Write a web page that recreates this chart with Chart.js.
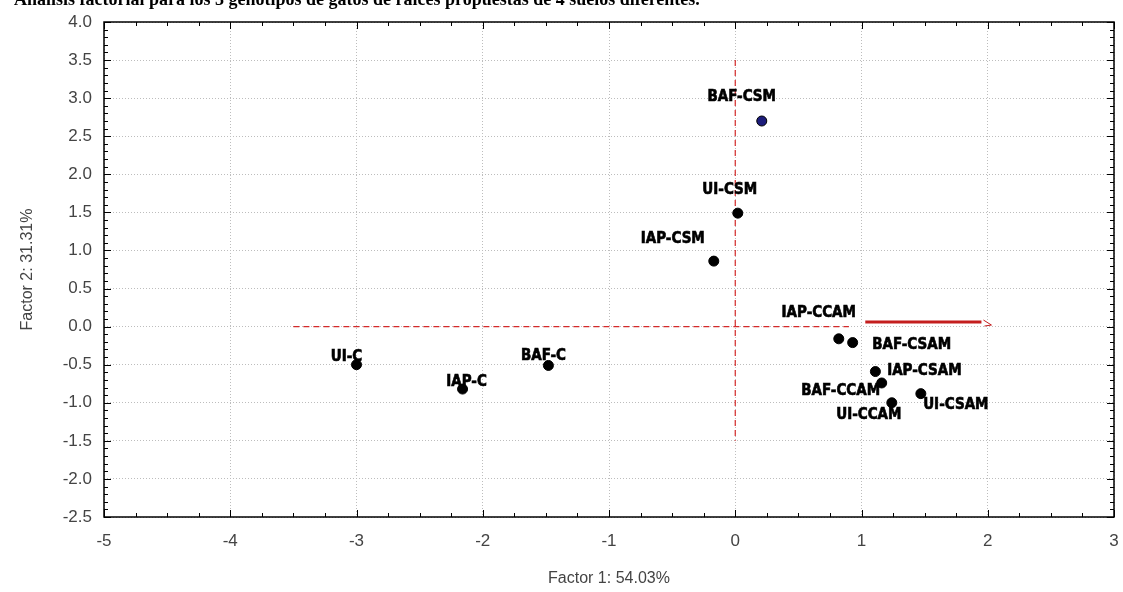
<!DOCTYPE html>
<html>
<head>
<meta charset="utf-8">
<script src="https://cdn.jsdelivr.net/npm/chart.js@4.4.1/dist/chart.umd.min.js"></script>
<style>
  html, body { margin: 0; padding: 0; background: #fff; }
  #wrap { position: relative; width: 1123px; height: 592px; }
</style>
</head>
<body>
<div id="wrap"><canvas id="biplot" width="1123" height="592"></canvas></div>
<script>
// Data
const titleText = 'Análisis factorial para los 3 genotipos de gatos de raíces propuestas de 4 suelos diferentes.';
const pointLabels = ['BAF-CSM', 'UI-CSM', 'IAP-CSM', 'IAP-CCAM', 'BAF-CSAM', 'IAP-CSAM', 'BAF-CCAM', 'UI-CCAM', 'UI-CSAM', 'UI-C', 'IAP-C', 'BAF-C'];
const factor1 = [0.21, 0.02, -0.17, 0.82, 0.93, 1.11, 1.16, 1.24, 1.47, -3.0, -2.16, -1.48];
const factor2 = [2.70, 1.49, 0.86, -0.16, -0.21, -0.59, -0.74, -1.0, -0.88, -0.5, -0.82, -0.51];
const xTicks = [-5, -4, -3, -2, -1, 0, 1, 2, 3];
const yTicks = [4.0, 3.5, 3.0, 2.5, 2.0, 1.5, 1.0, 0.5, 0.0, -0.5, -1.0, -1.5, -2.0, -2.5];
const xTitle = 'Factor 1: 54.03%';
const yTitle = 'Factor 2: 31.31%';

// reference lines (red)
const hDashX = [-3.5, 0.9];
const hDashY = [0, 0];
const hSolidX = [1.03, 1.95];
const hSolidY = [0.06, 0.06];
const vDashX = [0, 0];
const vDashY = [3.5, -1.5];

// label placement (pixels, relative to point)
const labelOffsets = [[-20, -24], [-8, -23], [-41, -22], [-20, -26], [59, 3], [49, 0], [-41, 8], [-23, 12], [35, 11], [-10, -8], [4, -7], [-5, -9]];
const pointColors = ['#1c1c7a', '#000', '#000', '#000', '#000', '#000', '#000', '#000', '#000', '#000', '#000', '#000'];

const toXY = (xs, ys) => xs.map((x, i) => ({ x: x, y: ys[i] }));

const tickFont = { family: "'Liberation Sans', Arial, sans-serif", size: 17 };
const titleFont = { family: "'Liberation Sans', Arial, sans-serif", size: 16 };

const framePlugin = {
    id: 'frame',
    beforeDraw(chart) {
        const ctx = chart.ctx;
        ctx.save();
        ctx.fillStyle = '#fff';
        ctx.fillRect(0, 0, chart.width, chart.height);
        // clipped title: only the lower half shows in the reference
        ctx.fillStyle = '#000';
        ctx.font = "bold 18px 'Liberation Serif', 'DejaVu Serif', serif";
        ctx.textBaseline = 'alphabetic';
        ctx.fillText(titleText, 14, 5);
        ctx.restore();
    },
    afterDatasetsDraw(chart) {
        const { ctx, chartArea: a, scales } = chart;
        ctx.save();
        ctx.strokeStyle = '#000';
        ctx.lineWidth = 1;
        // minor & major ticks, pointing inward
        ctx.beginPath();
        for (let v = -5; v <= 3.001; v += 0.25) {
            const px = Math.round(scales.x.getPixelForValue(v)) + 0.5;
            const major = Math.abs(v - Math.round(v)) < 0.001;
            const len = major ? 7 : 4;
            ctx.moveTo(px, a.bottom); ctx.lineTo(px, a.bottom - len);
            ctx.moveTo(px, a.top); ctx.lineTo(px, a.top + len);
        }
        for (let v = -2.5; v <= 4.001; v += 0.1) {
            const py = Math.round(scales.y.getPixelForValue(v)) + 0.5;
            const major = Math.abs(v * 2 - Math.round(v * 2)) < 0.001;
            const len = major ? 7 : 4;
            ctx.moveTo(a.left, py); ctx.lineTo(a.left + len, py);
            ctx.moveTo(a.right, py); ctx.lineTo(a.right - len, py);
        }
        ctx.stroke();
        ctx.lineWidth = 1.5;
        ctx.strokeRect(a.left, a.top, a.right - a.left, a.bottom - a.top);

        // small arrow tip at the end of the solid red segment
        const ex = scales.x.getPixelForValue(hSolidX[1]);
        const ey = scales.y.getPixelForValue(hSolidY[1]);
        ctx.strokeStyle = '#c41e1e';
        ctx.lineWidth = 1;
        ctx.beginPath();
        ctx.moveTo(ex + 2, ey - 2);
        ctx.lineTo(ex + 10, ey + 3);
        ctx.lineTo(ex + 3, ey + 4);
        ctx.stroke();

        // point labels
        const meta = chart.getDatasetMeta(0);
        ctx.fillStyle = '#000';
        ctx.strokeStyle = '#000';
        ctx.lineWidth = 0.6;
        ctx.font = "bold 15px 'DejaVu Sans Condensed', 'Liberation Sans Narrow', Arial, sans-serif";
        ctx.textAlign = 'center';
        ctx.textBaseline = 'middle';
        meta.data.forEach((el, i) => {
            const off = labelOffsets[i];
            ctx.fillText(pointLabels[i], el.x + off[0], el.y + off[1]);
            ctx.strokeText(pointLabels[i], el.x + off[0], el.y + off[1]);
        });
        ctx.restore();
    }
};

new Chart(document.getElementById('biplot'), {
    type: 'scatter',
    data: {
        datasets: [
            {
                label: 'points',
                data: toXY(factor1, factor2),
                backgroundColor: pointColors,
                borderColor: '#000',
                borderWidth: 1,
                pointRadius: 5,
                order: 0
            },
            {
                label: 'hdash',
                type: 'line',
                data: toXY(hDashX, hDashY),
                borderColor: '#d42a2a',
                borderWidth: 1.2,
                borderDash: [6, 4],
                pointRadius: 0,
                order: 1
            },
            {
                label: 'hsolid',
                type: 'line',
                data: toXY(hSolidX, hSolidY),
                borderColor: '#c41e1e',
                borderWidth: 3,
                pointRadius: 0,
                order: 1
            },
            {
                label: 'vdash',
                type: 'line',
                data: toXY(vDashX, vDashY),
                borderColor: '#d42a2a',
                borderWidth: 1.2,
                borderDash: [6, 4],
                pointRadius: 0,
                order: 1
            }
        ]
    },
    options: {
        responsive: false,
        animation: false,
        layout: { padding: { top: 22, right: 9, left: 14, bottom: 0 } },
        plugins: { legend: { display: false }, tooltip: { enabled: false } },
        scales: {
            x: {
                type: 'linear',
                min: -5, max: 3,
                afterBuildTicks: s => { s.ticks = xTicks.map(v => ({ value: v })); },
                afterFit: s => { s.height = 75; s.paddingLeft = 0; s.paddingRight = 0; },
                ticks: { font: tickFont, color: '#444', padding: 14, callback: v => String(v) },
                grid: { color: '#bdbdbd', drawTicks: false, lineWidth: 1 },
                border: { display: false, dash: [1, 2] },
                title: { display: true, text: xTitle, font: titleFont, color: '#444', padding: { top: 8 } }
            },
            y: {
                type: 'linear',
                min: -2.5, max: 4,
                afterBuildTicks: s => { s.ticks = yTicks.map(v => ({ value: v })); },
                afterFit: s => { s.width = 90; s.paddingTop = 0; s.paddingBottom = 0; },
                ticks: { font: tickFont, color: '#444', padding: 12, callback: v => v.toFixed(1) },
                grid: { color: '#bdbdbd', drawTicks: false, lineWidth: 1 },
                border: { display: false, dash: [1, 2] },
                title: { display: true, text: yTitle, font: titleFont, color: '#444', padding: { bottom: 4 } }
            }
        }
    },
    plugins: [framePlugin]
});
</script>
</body>
</html>
